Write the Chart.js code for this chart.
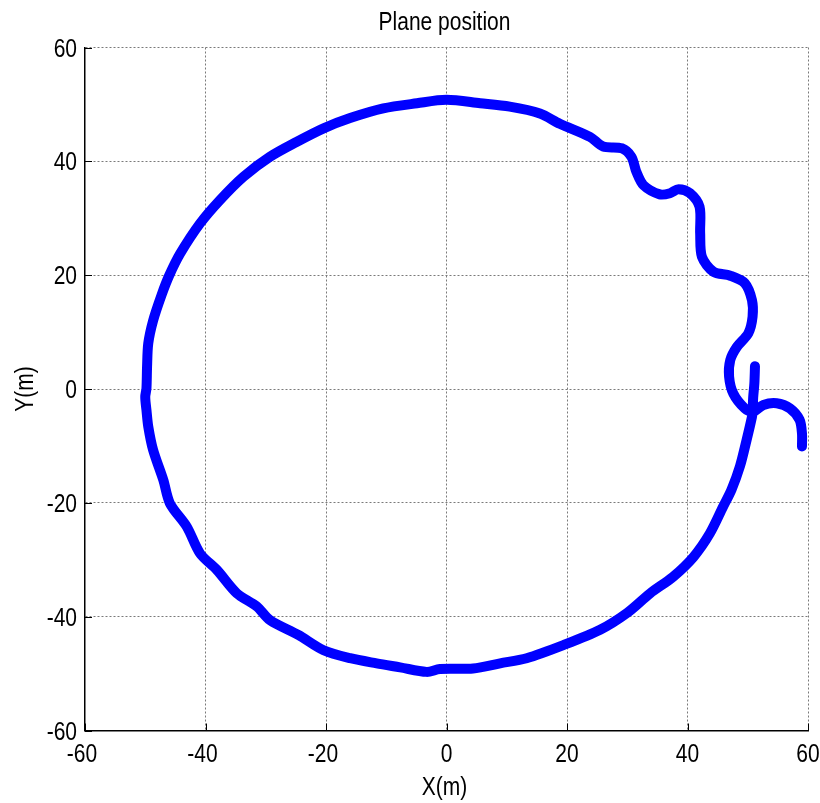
<!DOCTYPE html>
<html lang="en">
<head>
    <meta charset="UTF-8">
    <title>Plane position</title>
    <script src="https://cdn.jsdelivr.net/npm/chart.js"></script>
    <style>
        html, body { margin: 0; padding: 0; background: #ffffff; }
        #wrap { width: 820px; height: 803px; }
    </style>
</head>
<body>
    <div id="wrap"><canvas id="planeChart" width="820" height="803"></canvas></div>

    <script>
        // flight track, metres (start at the short stub, end at the hook)
        const posX = [51.2, 51.1, 50.9, 50.8, 50.7, 49.8, 48.7, 47.3, 45.9, 43.7, 41.0, 37.6, 33.8, 29.9, 25.5,
            19.4, 13.3, 8.9, 4.4, -1.1, -3.3, -7.7, -11.6, -16.0, -20.4, -24.6, -29.3, -31.5, -34.8, -38.1,
            -40.9, -43.1, -45.9, -47.0, -48.7, -49.5, -49.8, -50.0, -49.8, -49.7, -49.5, -48.7, -47.3, -46.0,
            -44.2, -40.9, -37.6, -33.7, -29.3, -24.9, -20.4, -16.0, -10.5, -4.9, 0.0, 5.6, 10.5, 15.5, 18.8,
            23.8, 26.0, 29.1, 30.7, 31.5, 32.7, 35.4, 37.1, 38.5, 40.4, 42.0, 42.1, 42.4, 44.3, 47.1, 49.5,
            50.7, 50.8, 50.1, 48.2, 47.1, 46.9, 47.6, 49.5, 50.9, 52.6, 54.8, 57.0, 58.6, 59.0, 59.0];
        const posY = [4.0, 1.0, -1.5, -4.0, -4.9, -9.0, -13.6, -17.7, -20.7, -25.4, -29.5, -33.0, -35.9, -39.4, -42.3,
            -45.0, -47.3, -48.2, -49.1, -49.2, -49.7, -48.9, -48.2, -47.3, -45.9, -43.2, -40.6, -38.2, -35.9, -31.8,
            -28.9, -24.2, -20.1, -16.0, -10.7, -6.6, -3.7, -1.4, 0.1, 3.9, 8.0, 12.0, 16.5, 20.0,
            23.8, 29.1, 33.2, 37.3, 40.8, 43.4, 45.8, 47.6, 49.3, 50.2, 50.8, 50.2, 49.6, 48.4, 46.6,
            44.3, 42.6, 42.3, 40.8, 38.2, 35.8, 34.2, 34.4, 35.1, 34.4, 32.0, 27.4, 23.2, 20.6, 19.9, 18.6,
            15.6, 12.7, 9.8, 7.4, 5.1, 2.2, -0.8, -3.4, -4.0, -2.8, -2.5, -3.4, -5.4, -7.8, -10.1];
        const tickValues = [-60, -40, -20, 0, 20, 40, 60];

        const FONT = "25px 'Liberation Sans', Arial, sans-serif";
        const SQUEEZE = 0.84;   // narrow helvetica look
        const track = posX.map((x, i) => ({ x: x, y: posY[i] }));

        const gridColor = (c) => (c.tick && c.tick.value === -60) ? 'rgba(0,0,0,0)' : '#7a7a7a';

        // horizontally squeezed text; align is left/center/right
        function squeezedText(ctx, text, x, y, align, rotate) {
            ctx.save();
            ctx.translate(x, y);
            if (rotate) ctx.rotate(-Math.PI / 2);
            ctx.scale(SQUEEZE, 1);
            ctx.textAlign = align;
            ctx.textBaseline = 'alphabetic';
            ctx.fillText(text, 0, 0);
            ctx.restore();
        }

        // title, tick labels, axis names and inward tick marks, matlab style
        const axesDecor = {
            id: 'axesDecor',
            afterDraw(chart) {
                const { ctx, chartArea, scales } = chart;
                ctx.save();
                ctx.strokeStyle = '#000';
                ctx.lineWidth = 1;
                ctx.beginPath();
                tickValues.forEach(v => {
                    const py = Math.round(scales.y.getPixelForValue(v)) + 0.5;
                    ctx.moveTo(chartArea.left, py);
                    ctx.lineTo(chartArea.left + 7, py);
                    const px = Math.round(scales.x.getPixelForValue(v)) + 0.5;
                    ctx.moveTo(px, chartArea.bottom);
                    ctx.lineTo(px, chartArea.bottom - 7);
                });
                ctx.stroke();

                ctx.fillStyle = '#000';
                ctx.font = FONT;
                tickValues.forEach(v => {
                    squeezedText(ctx, String(v), chartArea.left - 8, scales.y.getPixelForValue(v) + 9, 'right');
                    squeezedText(ctx, String(v), scales.x.getPixelForValue(v) - (v < 0 ? 3 : 0), chartArea.bottom + 31, 'center');
                });
                const midX = (chartArea.left + chartArea.right) / 2;
                squeezedText(ctx, 'Plane position', midX - 2, 30, 'center');
                squeezedText(ctx, 'X(m)', midX - 2, 795, 'center');
                squeezedText(ctx, 'Y(m)', 33, (chartArea.top + chartArea.bottom) / 2, 'center', true);
                ctx.restore();
            }
        };

        new Chart(document.getElementById('planeChart'), {
            type: 'scatter',
            data: {
                datasets: [{
                    label: 'Plane position',
                    data: track,
                    showLine: true,
                    borderColor: '#0000ff',
                    backgroundColor: '#0000ff',
                    borderWidth: 10,
                    borderCapStyle: 'round',
                    borderJoinStyle: 'round',
                    tension: 0.3,
                    pointRadius: 0,
                    pointHoverRadius: 0
                }]
            },
            options: {
                responsive: false,
                animation: false,
                devicePixelRatio: 1,
                layout: { padding: { top: 47.5, right: 12, left: 0, bottom: 0 } },
                plugins: {
                    legend: { display: false },
                    tooltip: { enabled: false },
                    title: { display: false }
                },
                scales: {
                    x: {
                        type: 'linear',
                        min: -60,
                        max: 60,
                        afterFit: (s) => { s.height = 72.5; s.paddingLeft = 0; s.paddingRight = 0; },
                        ticks: { stepSize: 20, display: false },
                        grid: { color: gridColor, lineWidth: 1, drawTicks: false },
                        border: { display: true, color: '#000', width: 1.5, dash: [2, 2] }
                    },
                    y: {
                        type: 'linear',
                        min: -60,
                        max: 60,
                        afterFit: (s) => { s.width = 85; s.paddingTop = 0; s.paddingBottom = 0; },
                        ticks: { stepSize: 20, display: false },
                        grid: { color: gridColor, lineWidth: 1, drawTicks: false },
                        border: { display: true, color: '#000', width: 1.5, dash: [2, 2] }
                    }
                }
            },
            plugins: [axesDecor]
        });
    </script>
</body>
</html>
